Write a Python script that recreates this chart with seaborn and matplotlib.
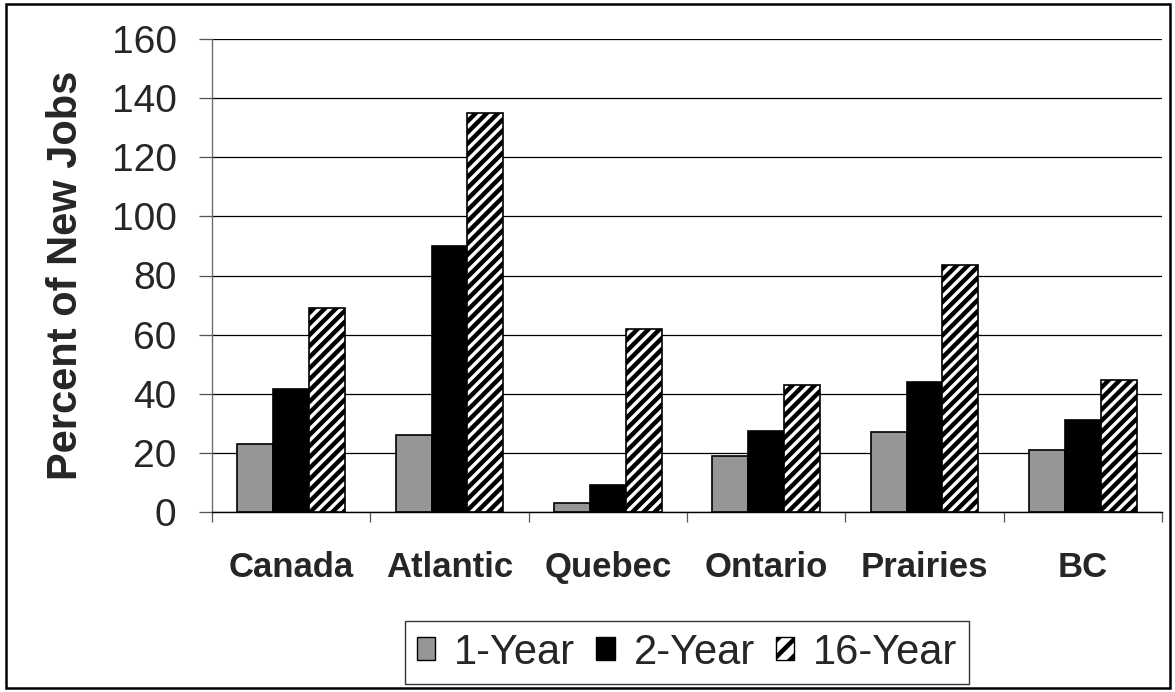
import numpy as np
import pandas as pd
import matplotlib
matplotlib.use("Agg")
import matplotlib.pyplot as plt
from matplotlib.patches import Patch, Rectangle
import seaborn as sns

# Share of new jobs by region and time horizon
regions = ["Canada", "Atlantic", "Quebec", "Ontario", "Prairies", "BC"]
periods = ["1-Year", "2-Year", "16-Year"]
one_year = [23, 26, 3, 19, 27, 21]
two_year = [41.5, 90, 9, 27.5, 44, 31]
sixteen_year = [69, 135, 62, 43, 83.5, 44.5]
y_ticks = [0, 20, 40, 60, 80, 100, 120, 140, 160]

df = pd.DataFrame({
    "region": regions * 3,
    "period": [p for p in periods for _ in regions],
    "value": one_year + two_year + sixteen_year,
})

sns.set_style("white")
plt.rcParams["font.family"] = ["Liberation Sans", "DejaVu Sans"]
plt.rcParams["hatch.linewidth"] = 3.2
plt.rcParams["hatch.color"] = "black"

fill_colors = ["#969696", "#000000", "#ffffff"]

fig = plt.figure(figsize=(11.75, 6.92), dpi=100)
ax = fig.add_axes([212 / 1175, 1 - 512 / 692, 950 / 1175, 473 / 692])

sns.barplot(
    data=df, x="region", y="value", hue="period", order=regions,
    hue_order=periods, palette=fill_colors, width=0.68, saturation=1,
    edgecolor="black", linewidth=1.2, legend=False, ax=ax,
)
for bar in ax.containers[2]:
    bar.set_hatch("///")

ax.set_ylim(0, 160)
ax.set_xlim(-0.5, len(regions) - 0.5)
ax.set_yticks(y_ticks)
ax.yaxis.grid(True, color="black", linewidth=0.9)
ax.set_axisbelow(True)

for side in ("top", "right"):
    ax.spines[side].set_visible(False)
ax.spines["left"].set_color("#6e6e6e")
ax.spines["left"].set_linewidth(1.0)
ax.spines["bottom"].set_color("black")
ax.spines["bottom"].set_linewidth(1.0)

ax.tick_params(axis="y", left=True, length=9.5, width=0.9, color="#555555",
               pad=16, labelsize=28)
ax.set_xticks(range(len(regions)))
ax.set_xticklabels(regions, fontsize=25, fontweight="bold")
ax.tick_params(axis="x", which="major", length=0, pad=28)
ax.set_xticks(np.arange(-0.5, len(regions)), minor=True)
ax.tick_params(axis="x", which="minor", bottom=True, length=7, width=0.9,
               color="#555555")

ax.set_xlabel("")
ax.set_ylabel("Percent of New Jobs", fontsize=30, fontweight="bold")
ax.yaxis.set_label_coords((86 - 212) / 950, 0.5)

handles = [
    Patch(facecolor=fill_colors[0], edgecolor="black", linewidth=1.0),
    Patch(facecolor=fill_colors[1], edgecolor="black", linewidth=1.0),
    Patch(facecolor=fill_colors[2], edgecolor="black", linewidth=1.0, hatch="//"),
]
leg = fig.legend(
    handles, periods, loc="center", bbox_to_anchor=(687 / 1175, 1 - 652.5 / 692),
    ncol=3, fontsize=30, frameon=True, fancybox=False, edgecolor="black",
    handlelength=0.45, handleheight=0.45, handletextpad=0.45, columnspacing=0.5,
    borderpad=0.27, borderaxespad=0,
)
leg.get_frame().set_linewidth(1.0)

# Outer frame around the whole figure
fig.patches.append(Rectangle((6 / 1175, 4 / 692), 1164 / 1175, 684 / 692,
                             transform=fig.transFigure, fill=False,
                             edgecolor="black", linewidth=1.8))

fig.savefig("out.png", dpi=100)
